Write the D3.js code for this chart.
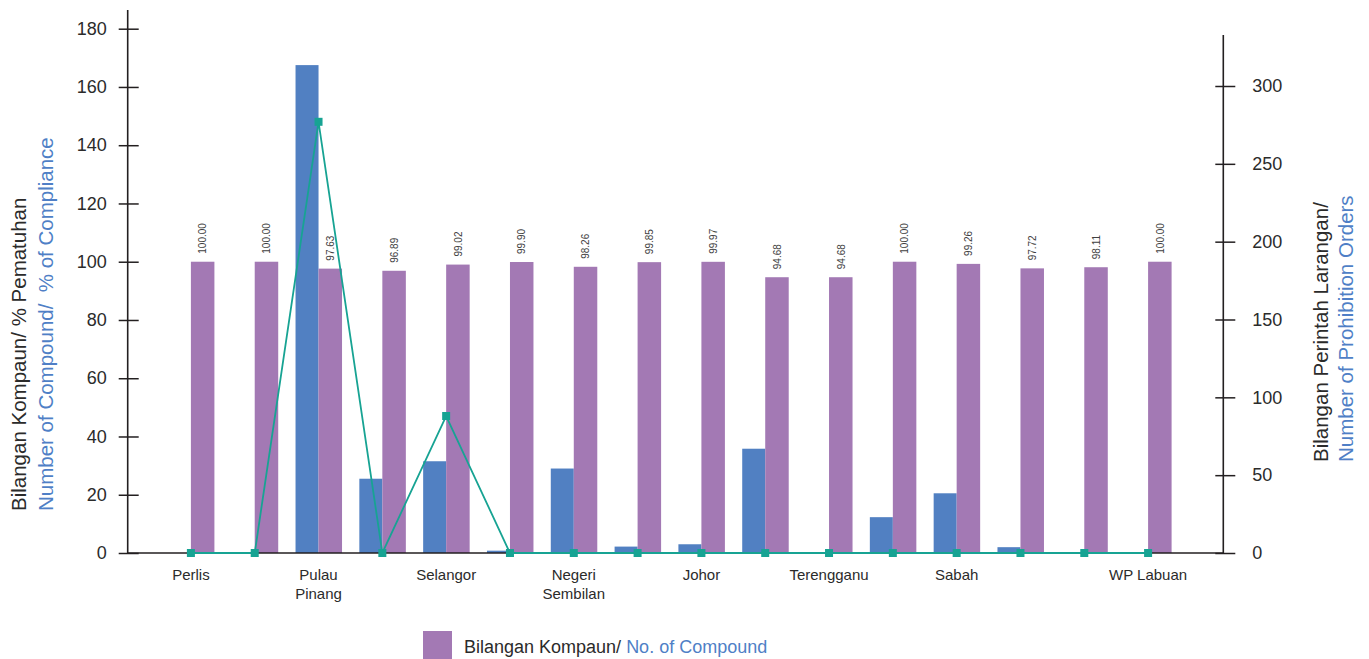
<!DOCTYPE html>
<html>
<head>
<meta charset="utf-8">
<script src="https://cdn.jsdelivr.net/npm/d3@7/dist/d3.min.js"></script>
<style>
  html, body { margin: 0; padding: 0; background: #fff; }
  svg { display: block; font-family: "Liberation Sans", Arial, sans-serif; }
</style>
</head>
<body>
<svg id="chart" width="1369" height="659"></svg>
<script>
// States, in display order
const categories = ["Perlis", "Kedah", "Pulau Pinang", "Perak", "Selangor", "WP Kuala Lumpur",
  "Negeri Sembilan", "Melaka", "Johor", "Pahang", "Terengganu", "Kelantan",
  "Sabah", "Sarawak", "WP Putrajaya", "WP Labuan"];

// Category labels that are printed under the axis (line breaks as arrays)
const axisLabels = [
  { cat: "Perlis", lines: ["Perlis"] },
  { cat: "Pulau Pinang", lines: ["Pulau", "Pinang"] },
  { cat: "Selangor", lines: ["Selangor"] },
  { cat: "Negeri Sembilan", lines: ["Negeri", "Sembilan"] },
  { cat: "Johor", lines: ["Johor"] },
  { cat: "Terengganu", lines: ["Terengganu"] },
  { cat: "Sabah", lines: ["Sabah"] },
  { cat: "WP Labuan", lines: ["WP Labuan"] }
];

// Compliance percentage (purple bars, labelled)
const compliance = [100.00, 100.00, 97.63, 96.89, 99.02, 99.90, 98.26, 99.85,
  99.97, 94.68, 94.68, 100.00, 99.26, 97.72, 98.11, 100.00];

// Number of compounds (blue bars, left axis)
const compounds = [0, 0, 167.5, 25.5, 31.5, 0.8, 29, 2.2, 3, 35.8, 0, 12.3, 20.5, 2, 0, 0];

// Number of prohibition orders (line, right axis)
const prohibitionOrders = [0, 0, 277, 0, 88, 0, 0, 0, 0, 0, 0, 0, 0, 0, 0, 0];

const leftTicks = [0, 20, 40, 60, 80, 100, 120, 140, 160, 180];
const rightTicks = [0, 50, 100, 150, 200, 250, 300];

const COLORS = {
  purple: "#a379b4",
  blue: "#5180c2",
  teal: "#17a393",
  axis: "#231f20",
  text: "#2b2b2b",
  label: "#404040",
  titleBlue: "#4f7fc6"
};

const svg = d3.select("#chart");

const x = d3.scaleBand().domain(categories).range([159, 1180]).padding(0);
const yL = d3.scaleLinear().domain([0, 180]).range([553, 28.7]);
const yR = d3.scaleLinear().domain([0, 300]).range([553, 86]);
const center = c => x(c) + x.bandwidth() / 2;
const barW = 23;

const rows = categories.map((c, i) => ({
  cat: c, pct: compliance[i], comp: compounds[i], po: prohibitionOrders[i]
}));

// Blue bars (compounds), left half of each slot
svg.append("g").selectAll("rect").data(rows).join("rect")
  .attr("x", d => center(d.cat) - barW)
  .attr("width", barW)
  .attr("y", d => yL(d.comp))
  .attr("height", d => yL(0) - yL(d.comp))
  .attr("fill", COLORS.blue);

// Purple bars (compliance), right half of each slot
svg.append("g").selectAll("rect").data(rows).join("rect")
  .attr("x", d => center(d.cat))
  .attr("width", barW + 0.5)
  .attr("y", d => yL(d.pct))
  .attr("height", d => yL(0) - yL(d.pct))
  .attr("fill", COLORS.purple);

// Value labels on purple bars
svg.append("g").selectAll("text").data(rows).join("text")
  .attr("transform", d => `translate(${center(d.cat) + barW / 2 + 4}, ${yL(d.pct) - 8}) rotate(-90)`)
  .attr("text-anchor", "start")
  .attr("font-size", 10)
  .attr("fill", COLORS.label)
  .text(d => d.pct.toFixed(2));

// Left axis
const leftAxis = svg.append("g")
  .attr("transform", "translate(127.7,0)")
  .call(d3.axisLeft(yL).tickValues(leftTicks).tickSize(0).tickPadding(21));
leftAxis.select(".domain").remove();
leftAxis.selectAll("text").attr("font-size", 18).attr("fill", COLORS.text)
  .attr("font-family", "Liberation Sans, Arial, sans-serif");
leftAxis.selectAll(".tick").append("line")
  .attr("x1", -9).attr("x2", 11).attr("stroke", COLORS.axis).attr("stroke-width", 1.5);
svg.append("line").attr("x1", 127.7).attr("x2", 127.7).attr("y1", 10).attr("y2", 553.5)
  .attr("stroke", COLORS.axis).attr("stroke-width", 1.6);

// Right axis
const rightAxis = svg.append("g")
  .attr("transform", "translate(1223.3,0)")
  .call(d3.axisRight(yR).tickValues(rightTicks).tickSize(0).tickPadding(29));
rightAxis.select(".domain").remove();
rightAxis.selectAll("text").attr("font-size", 18).attr("fill", COLORS.text)
  .attr("font-family", "Liberation Sans, Arial, sans-serif");
rightAxis.selectAll(".tick").append("line")
  .attr("x1", -8).attr("x2", 12).attr("stroke", COLORS.axis).attr("stroke-width", 1.5);
svg.append("line").attr("x1", 1223.3).attr("x2", 1223.3).attr("y1", 35).attr("y2", 553.5)
  .attr("stroke", COLORS.axis).attr("stroke-width", 1.6);

// Baseline
svg.append("line").attr("x1", 127.7).attr("x2", 1223.3).attr("y1", 553).attr("y2", 553)
  .attr("stroke", COLORS.axis).attr("stroke-width", 1.6);

// Category labels
const catG = svg.append("g").selectAll("text").data(axisLabels).join("text")
  .attr("x", d => center(d.cat))
  .attr("y", 580)
  .attr("text-anchor", "middle")
  .attr("font-size", 15)
  .attr("fill", COLORS.text);
catG.selectAll("tspan").data(d => d.lines.map(l => ({ l, x: center(d.cat) }))).join("tspan")
  .attr("x", t => t.x)
  .attr("dy", (t, i) => i === 0 ? 0 : 19)
  .text(t => t.l);

// Prohibition orders line with square markers
const line = d3.line().x(d => center(d.cat)).y(d => yR(d.po));
svg.append("path").datum(rows)
  .attr("d", line)
  .attr("fill", "none")
  .attr("stroke", COLORS.teal)
  .attr("stroke-width", 1.8);
svg.append("g").selectAll("rect").data(rows).join("rect")
  .attr("x", d => center(d.cat) - 4)
  .attr("y", d => yR(d.po) - 4)
  .attr("width", 8).attr("height", 8)
  .attr("fill", COLORS.teal);

// Left axis title (two lines, rotated)
svg.append("text")
  .attr("transform", "translate(26,511) rotate(-90)")
  .attr("text-anchor", "start").attr("font-size", 20.5).attr("fill", COLORS.text)
  .text("Bilangan Kompaun/ % Pematuhan");
svg.append("text")
  .attr("transform", "translate(53,511) rotate(-90)")
  .attr("text-anchor", "start").attr("font-size", 20.5).attr("fill", COLORS.titleBlue)
  .attr("xml:space", "preserve")
  .style("white-space", "pre")
  .text("Number of Compound/  % of Compliance");

// Right axis title
svg.append("text")
  .attr("transform", "translate(1328,462) rotate(-90)")
  .attr("text-anchor", "start").attr("font-size", 20.5).attr("fill", COLORS.text)
  .text("Bilangan Perintah Larangan/");
svg.append("text")
  .attr("transform", "translate(1353,462) rotate(-90)")
  .attr("text-anchor", "start").attr("font-size", 20.5).attr("fill", COLORS.titleBlue)
  .text("Number of Prohibition Orders");

// Legend
const legend = svg.append("g");
legend.append("rect").attr("x", 423).attr("y", 631).attr("width", 29).attr("height", 28)
  .attr("fill", COLORS.purple);
const lgText = legend.append("text").attr("x", 464).attr("y", 652.5)
  .attr("font-size", 18).attr("fill", COLORS.text);
lgText.append("tspan").text("Bilangan Kompaun/ ");
lgText.append("tspan").attr("fill", COLORS.titleBlue).text("No. of Compound");
</script>
</body>
</html>
